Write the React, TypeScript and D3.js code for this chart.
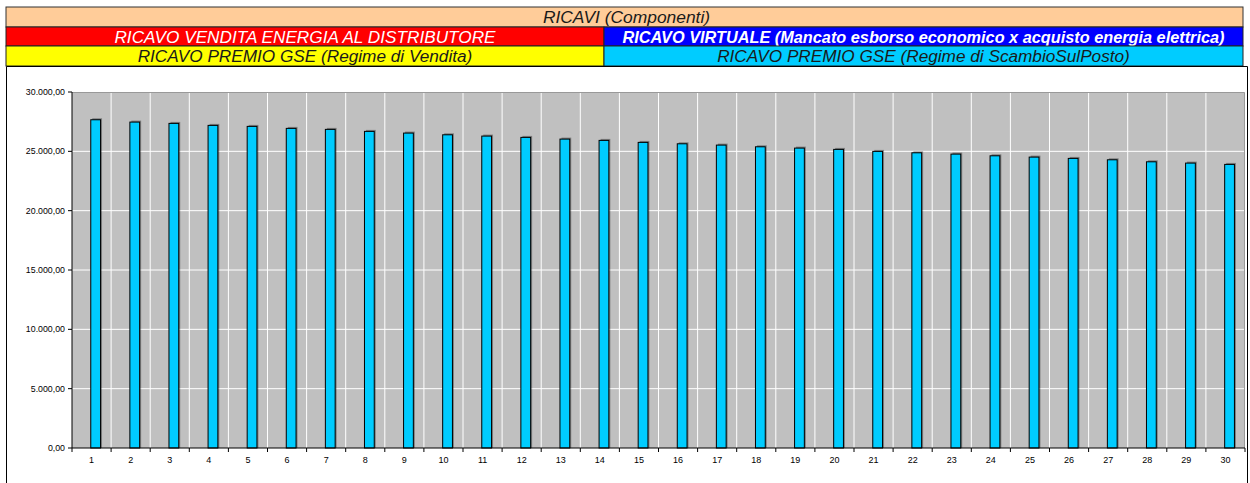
import React from 'react';
import * as d3 from 'd3';

// anni (categorie asse X)
const years = d3.range(1, 31).map(String);

// RICAVO PREMIO GSE (Regime di ScambioSulPosto)
const ricavoScambio = [
  27660, 27465, 27355, 27187, 27102, 26934, 26850, 26681, 26538, 26394,
  26285, 26175, 26032, 25922, 25754, 25636, 25526, 25383, 25273, 25164,
  24995, 24877, 24767, 24624, 24514, 24405, 24287, 24118, 24009, 23899,
];

const yTicks = [0, 5000, 10000, 15000, 20000, 25000, 30000];

// legenda in testa
const headerTitle = 'RICAVI (Componenti)';
const legendRows = [
  [
    { label: 'RICAVO VENDITA ENERGIA AL DISTRIBUTORE', fill: '#ff0000', color: '#ffffff', bold: false },
    { label: 'RICAVO VIRTUALE (Mancato esborso economico x acquisto energia elettrica)', fill: '#0000ff', color: '#ffffff', bold: true },
  ],
  [
    { label: 'RICAVO PREMIO GSE (Regime di Vendita)', fill: '#ffff00', color: '#1a1a1a', bold: false },
    { label: 'RICAVO PREMIO GSE (Regime di ScambioSulPosto)', fill: '#00ccff', color: '#1a1a1a', bold: false },
  ],
];

const W = 1250;
const H = 483;
const plot = { left: 72, right: 1245, top: 92, bottom: 448 };

const itLocale = d3.formatLocale({ decimal: ',', thousands: '.', grouping: [3], currency: ['€', ''] });
const fmt = itLocale.format(',.2f');

const App = () => {
  const x = d3.scaleBand().domain(years).range([plot.left, plot.right]).padding(0);
  const y = d3.scaleLinear().domain([0, 30000]).range([plot.bottom, plot.top]);
  const bw = x.bandwidth();
  const barW = bw * 0.25;
  const barOff = bw * 0.48;

  const hLeft = 6;
  const hRight = 1243;
  const hSplit = 604;
  const rowY = [7, 27, 46, 66];
  const font = '"Liberation Sans", Arial, sans-serif';

  return (
    <svg width={W} height={H} style={{ position: 'absolute', left: 0, top: 0, background: '#fff' }} fontFamily={font}>
      {/* header */}
      <rect x={hLeft} y={rowY[0]} width={hRight - hLeft} height={rowY[1] - rowY[0]} fill="#ffcc99" stroke="#333" strokeWidth={1} />
      <text x={(hLeft + hRight) / 2 + 2} y={rowY[0] + 16} textAnchor="middle" fontSize={17.4} fontStyle="italic" fill="#1a1a1a">
        {headerTitle}
      </text>
      {legendRows.map((row, ri) =>
        row.map((cell, ci) => {
          const x0 = ci === 0 ? hLeft : hSplit;
          const x1 = ci === 0 ? hSplit : hRight;
          return (
            <g key={`${ri}-${ci}`}>
              <rect x={x0} y={rowY[ri + 1]} width={x1 - x0} height={rowY[ri + 2] - rowY[ri + 1]} fill={cell.fill} stroke="#222" strokeWidth={1} />
              <text
                x={(x0 + x1) / 2}
                y={rowY[ri + 1] + 16}
                textAnchor="middle"
                fontSize={cell.bold ? 16.3 : 17.2}
                fontWeight={cell.bold ? 'bold' : 'normal'}
                fontStyle="italic"
                fill={cell.color}
              >
                {cell.label}
              </text>
            </g>
          );
        })
      )}

      {/* cornice grafico */}
      <path d={`M6.5,${H} V66.5 H1247.5 V${H}`} fill="none" stroke="#000" strokeWidth={1} />

      {/* area del tracciato */}
      <rect x={plot.left} y={plot.top} width={plot.right - plot.left} height={plot.bottom - plot.top} fill="#c0c0c0" />
      {yTicks.slice(1).map(t => (
        <line key={t} x1={plot.left} x2={plot.right} y1={y(t)} y2={y(t)} stroke="#ffffff" strokeWidth={1} />
      ))}
      {years.slice(1).map(c => (
        <line key={c} x1={x(c)} x2={x(c)} y1={plot.top} y2={plot.bottom} stroke="#ffffff" strokeWidth={1} />
      ))}
      <path d={`M${plot.left},${plot.top + 0.5} H${plot.right - 0.5} V${plot.bottom}`} fill="none" stroke="#999" strokeWidth={1} />

      {/* barre */}
      {ricavoScambio.map((v, i) => {
        const bx = (x(years[i]) as number) + barOff;
        return (
          <g key={i}>
            <rect x={bx + 1.5} y={y(v) - 1.5} width={barW} height={plot.bottom - y(v) + 1.5} fill="rgba(0,0,0,0.35)" />
            <rect x={bx} y={y(v)} width={barW} height={plot.bottom - y(v)} fill="#00ccff" stroke="#000" strokeWidth={1} />
          </g>
        );
      })}

      {/* assi */}
      <line x1={plot.left} x2={plot.left} y1={plot.top} y2={plot.bottom} stroke="#000" strokeWidth={1} />
      <line x1={plot.left} x2={plot.right} y1={plot.bottom} y2={plot.bottom} stroke="#000" strokeWidth={1} />
      {yTicks.map(t => (
        <g key={t}>
          <line x1={plot.left - 4} x2={plot.left} y1={y(t)} y2={y(t)} stroke="#000" />
          <text x={plot.left - 7} y={y(t) + 3} textAnchor="end" fontSize={8.8} fill="#000">
            {fmt(t)}
          </text>
        </g>
      ))}
      {years.map(c => (
        <line key={c} x1={x(c)} x2={x(c)} y1={plot.bottom} y2={plot.bottom + 4} stroke="#000" />
      ))}
      <line x1={plot.right} x2={plot.right} y1={plot.bottom} y2={plot.bottom + 4} stroke="#000" />
      {years.map(c => (
        <text key={c} x={(x(c) as number) + bw / 2} y={plot.bottom + 15} textAnchor="middle" fontSize={9} fill="#000">
          {c}
        </text>
      ))}
    </svg>
  );
};

export default App;
